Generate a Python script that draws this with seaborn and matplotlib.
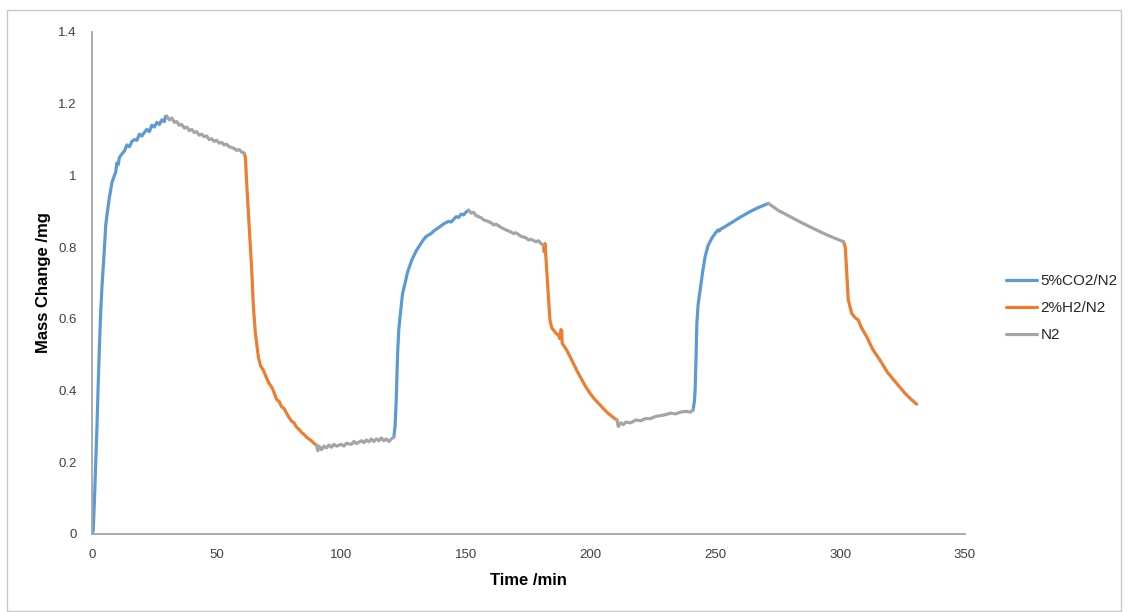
import matplotlib
matplotlib.use("Agg")
import matplotlib.pyplot as plt
import seaborn as sns
import pandas as pd
from matplotlib.patches import Rectangle

# ---------------- data ----------------
gas_labels = ["5%CO2/N2", "2%H2/N2", "N2"]
gas_colors = ["#5B9BD5", "#ED7D31", "#A5A5A5"]

co2_1_t = [0, 0.5, 1, 1.5, 2, 2.5, 3, 3.5, 4, 4.5, 5, 5.5, 6, 7, 8, 9, 9.5, 10, 10.5, 11, 12, 13, 14, 15,
           16, 17, 18, 19, 20, 21, 22, 23, 24, 25, 26, 27, 28, 29, 29.5, 30]
co2_1_m = [0, 0.01, 0.1, 0.2, 0.3, 0.42, 0.53, 0.62, 0.69, 0.745, 0.8, 0.86, 0.89, 0.94, 0.98, 1.0, 1.01,
           1.035, 1.03, 1.05, 1.06, 1.068, 1.085, 1.08, 1.095, 1.1, 1.098, 1.115, 1.11, 1.12, 1.128, 1.122,
           1.14, 1.135, 1.148, 1.142, 1.155, 1.15, 1.165, 1.165]

n2_1_t = [30, 31, 32, 33, 34, 35, 36, 37, 38, 39, 40, 41, 42, 43, 44, 45, 46, 47, 48, 49, 50, 51, 52, 53,
          54, 55, 56, 57, 58, 59, 60, 61]
n2_1_m = [1.165, 1.155, 1.16, 1.148, 1.15, 1.14, 1.142, 1.132, 1.135, 1.125, 1.128, 1.12, 1.122, 1.112,
          1.115, 1.108, 1.11, 1.1, 1.102, 1.095, 1.098, 1.09, 1.092, 1.085, 1.087, 1.08, 1.078, 1.075,
          1.07, 1.072, 1.065, 1.062]

h2_1_t = [61, 61.5, 62, 63, 64, 64.7, 65.5, 66.7, 67.5, 68.7, 70, 71, 72, 72.7, 74, 75, 76, 77, 78, 79,
          80, 81, 82, 83, 84, 85, 86, 87, 88, 89, 90]
h2_1_m = [1.062, 1.05, 0.98, 0.86, 0.74, 0.634, 0.56, 0.494, 0.47, 0.457, 0.435, 0.42, 0.41, 0.40, 0.375,
          0.37, 0.355, 0.35, 0.337, 0.325, 0.315, 0.31, 0.298, 0.292, 0.283, 0.278, 0.27, 0.265, 0.26,
          0.253, 0.248]

n2_2_t = [90, 90.5, 91, 92, 93, 94, 95, 96, 97, 98, 100, 101, 102, 104, 105, 106, 108, 109, 110, 111,
          112, 113, 114, 115, 116, 117, 118, 119, 120, 121]
n2_2_m = [0.248, 0.232, 0.245, 0.235, 0.245, 0.24, 0.248, 0.242, 0.25, 0.245, 0.25, 0.245, 0.253, 0.25,
          0.258, 0.252, 0.26, 0.255, 0.262, 0.257, 0.265, 0.258, 0.265, 0.26, 0.268, 0.26, 0.265,
          0.258, 0.265, 0.27]

co2_2_t = [121, 121.5, 122, 122.5, 123, 123.5, 124.5, 125.5, 126.5, 128.2, 130, 132.8, 134, 136, 137,
           139.5, 141, 143, 144, 146, 147, 148, 149, 150, 151]
co2_2_m = [0.27, 0.3, 0.38, 0.5, 0.57, 0.606, 0.67, 0.699, 0.73, 0.764, 0.79, 0.82, 0.83, 0.838, 0.845,
           0.857, 0.865, 0.872, 0.87, 0.885, 0.883, 0.892, 0.89, 0.898, 0.903]

n2_3_t = [151, 152, 153, 154, 155, 156, 157, 158, 160, 161, 162, 164, 166, 168, 169, 170, 172, 174, 175,
          176, 178, 179, 180, 181]
n2_3_m = [0.903, 0.895, 0.897, 0.888, 0.885, 0.882, 0.876, 0.874, 0.868, 0.862, 0.864, 0.855, 0.848,
          0.842, 0.838, 0.84, 0.83, 0.826, 0.82, 0.822, 0.815, 0.818, 0.81, 0.805]

h2_2_t = [181, 181.3, 181.6, 182, 182.3, 183, 183.6, 184.3, 185, 186, 187, 187.5, 188, 188.3, 188.5,
          190.3, 192, 194.3, 196, 198, 199.7, 201, 203, 205, 207, 209, 210.5]
h2_2_m = [0.805, 0.787, 0.81, 0.77, 0.736, 0.66, 0.597, 0.575, 0.569, 0.56, 0.555, 0.545, 0.57, 0.568,
          0.532, 0.513, 0.49, 0.457, 0.435, 0.41, 0.392, 0.38, 0.365, 0.35, 0.336, 0.325, 0.318]

n2_4_t = [210.5, 211, 212, 213, 214, 216, 218, 220, 222, 224, 226, 228, 230, 232, 234, 236, 238, 240, 241]
n2_4_m = [0.318, 0.3, 0.31, 0.305, 0.312, 0.31, 0.318, 0.316, 0.322, 0.322, 0.328, 0.33, 0.333, 0.337,
          0.335, 0.34, 0.342, 0.34, 0.346]

co2_3_t = [241, 241.5, 241.8, 242.2, 242.5, 243, 243.8, 244.8, 245.8, 247, 248.5, 250, 251, 251.5, 252,
           254, 257, 260, 263.8, 267, 271.2]
co2_3_m = [0.346, 0.37, 0.40, 0.5, 0.588, 0.64, 0.68, 0.73, 0.773, 0.805, 0.825, 0.84, 0.848, 0.845,
           0.85, 0.858, 0.871, 0.884, 0.899, 0.91, 0.922]

n2_5_t = [271.2, 275, 279.9, 284, 289.2, 295, 301.3]
n2_5_m = [0.922, 0.903, 0.885, 0.87, 0.852, 0.833, 0.815]

h2_3_t = [301.3, 302, 302.6, 303.2, 304.6, 306, 307.2, 308.5, 310.6, 313, 315.9, 319, 322.6, 326,
          328.5, 330.6]
h2_3_m = [0.815, 0.8, 0.727, 0.653, 0.615, 0.603, 0.597, 0.575, 0.55, 0.515, 0.485, 0.45, 0.42, 0.392,
          0.375, 0.362]

x_ticks = [0, 50, 100, 150, 200, 250, 300, 350]
y_ticks = [0, 0.2, 0.4, 0.6, 0.8, 1.0, 1.2, 1.4]
y_tick_labels = ["0", "0.2", "0.4", "0.6", "0.8", "1", "1.2", "1.4"]
x_label = "Time /min"
y_label = "Mass Change /mg"

segments = [
    ("5%CO2/N2", co2_1_t, co2_1_m), ("N2", n2_1_t, n2_1_m), ("2%H2/N2", h2_1_t, h2_1_m),
    ("N2", n2_2_t, n2_2_m), ("5%CO2/N2", co2_2_t, co2_2_m), ("N2", n2_3_t, n2_3_m),
    ("2%H2/N2", h2_2_t, h2_2_m), ("N2", n2_4_t, n2_4_m), ("5%CO2/N2", co2_3_t, co2_3_m),
    ("N2", n2_5_t, n2_5_m), ("2%H2/N2", h2_3_t, h2_3_m),
]

rows = []
for i, (gas, ts, ms) in enumerate(segments):
    for t, m in zip(ts, ms):
        rows.append({"time": t, "mass": m, "gas": gas, "seg": i})
df = pd.DataFrame(rows)

# ---------------- figure ----------------
sns.set_theme(style="white")
plt.rcParams["font.family"] = ["Liberation Sans", "DejaVu Sans"]

W, H = 1131, 612
fig = plt.figure(figsize=(W / 100, H / 100), dpi=100)
ax = fig.add_axes([92 / W, (H - 534) / H, 873 / W, 502 / H])

sns.lineplot(data=df, x="time", y="mass", hue="gas", units="seg", estimator=None, sort=False,
             hue_order=gas_labels, palette=gas_colors, linewidth=2.3, ax=ax, legend=True)

ax.set_xlim(0, 350)
ax.set_ylim(0, 1.4)
ax.set_xticks(x_ticks)
ax.set_xticklabels([str(v) for v in x_ticks])
ax.set_yticks(y_ticks)
ax.set_yticklabels(y_tick_labels)
ax.tick_params(axis="both", length=0, labelsize=9.5, colors="#404040", pad=11)

for side in ["top", "right"]:
    ax.spines[side].set_visible(False)
for side in ["left", "bottom"]:
    ax.spines[side].set_color("#A6A6A6")
    ax.spines[side].set_linewidth(1.3)

ax.set_xlabel(x_label, fontsize=12, fontweight="bold", color="black")
ax.set_ylabel(y_label, fontsize=12, fontweight="bold", color="black")
ax.xaxis.set_label_coords(0.5, (534 - 573) / 502)
ax.yaxis.set_label_coords((51 - 92) / 873, 0.5)

handles, labels = ax.get_legend_handles_labels()
ax.get_legend().remove()
for h in handles:
    h.set_linewidth(2.3)
fig.legend(handles, labels, loc="upper left", bbox_to_anchor=(1006 / W, 1 - 274 / H),
           frameon=False, fontsize=11, handlelength=2.0, handletextpad=0.25,
           labelspacing=0.85, borderpad=0, borderaxespad=0)

# outer chart-area border
fig.patches.append(Rectangle((7 / W, 1 - 611 / H), (1121 - 7) / W, (611 - 10) / H,
                             transform=fig.transFigure, fill=False, edgecolor="#C8C8C8",
                             linewidth=1.0))

fig.savefig("out.png", dpi=100)
